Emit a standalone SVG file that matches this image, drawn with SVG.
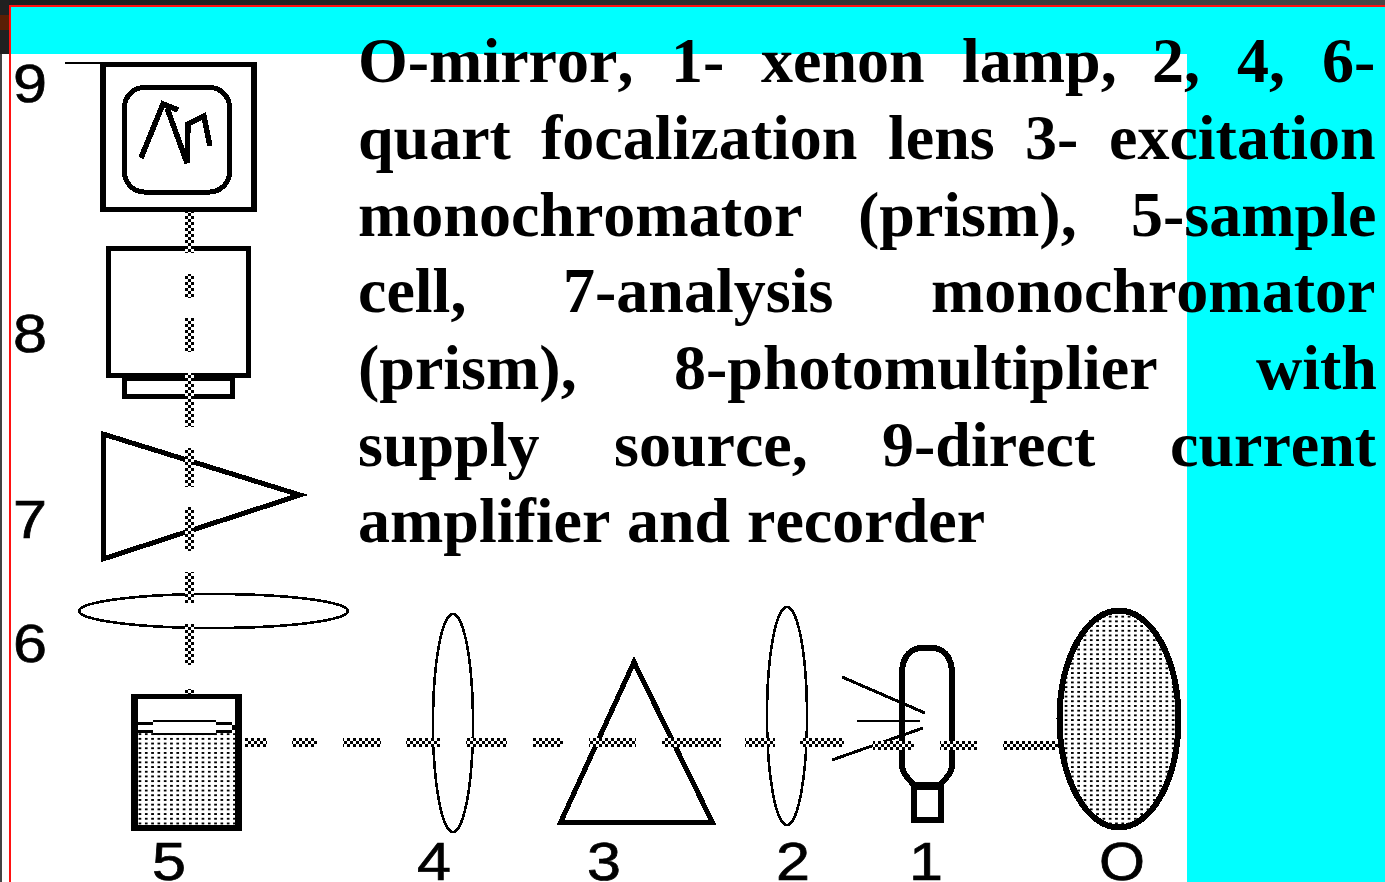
<svg xmlns="http://www.w3.org/2000/svg" width="1385" height="882" viewBox="0 0 1385 882">
<style>
.s{fill:none;stroke:#000;stroke-linejoin:miter;shape-rendering:crispEdges}
.w5{stroke-width:5}
.w6{stroke-width:6}
.w2{stroke-width:2.600}
.w3{stroke-width:3}
.num{font-family:"Liberation Sans",Arial,sans-serif;font-size:54px;fill:#000;stroke:#000;stroke-width:0.700}
.para{font-family:"Liberation Serif","Times New Roman",serif;font-weight:bold;font-size:64px;fill:#000;font-kerning:none}
.b{fill:#000;shape-rendering:crispEdges}
</style>
<defs>
<linearGradient id="top" x1="0" x2="1" y1="0" y2="0"><stop offset="0" stop-color="#1e1e1e"/><stop offset="0.4" stop-color="#2a2a2a"/><stop offset="1" stop-color="#484848"/></linearGradient>
<pattern id="check" patternUnits="userSpaceOnUse" x="185" y="738" width="6" height="6" shape-rendering="crispEdges">
<rect width="6" height="6" fill="#fff"/><rect width="3" height="3" fill="#000"/><rect x="3" y="3" width="3" height="3" fill="#000"/>
</pattern>
<pattern id="dots" patternUnits="userSpaceOnUse" x="0" y="0" width="6.3" height="4.7" shape-rendering="crispEdges">
<rect width="6.3" height="4.7" fill="#fff"/><rect width="2.4" height="2.2" fill="#000"/>
</pattern>
</defs>
<rect width="1385" height="882" fill="#fff"/>
<rect width="1385" height="6" fill="url(#top)"/>
<rect y="0" width="9" height="54" fill="#202020"/>
<rect y="15" width="9" height="15" fill="#5a1f05"/>
<rect y="54" width="2" height="828" fill="#444"/>
<rect x="2" y="54" width="7" height="828" fill="#fff"/>
<rect x="9" y="5" width="1376" height="2" fill="#f11"/>
<rect x="9" y="5" width="2" height="877" fill="#f11"/>
<rect x="11" y="7" width="1374" height="47" fill="#0ff"/>
<rect x="1187" y="54" width="198" height="828" fill="#0ff"/>

<g id="node-9">
<path class="b" d="M65 62H257V212H100V64H65ZM106 67V207H251V67Z" fill-rule="evenodd"/>
<rect class="s w5" x="124.500" y="87.500" width="105" height="104.500" rx="20"/>
<path class="s" stroke-width="5.500" d="M141 158L163 104L178 110M167 108L187 163L188 124L204 116L210 146"/>
<text class="num" x="13" y="102" textLength="34" lengthAdjust="spacingAndGlyphs">9</text>
</g>
<g id="node-8">
<rect class="s w5" x="108.500" y="248.500" width="140" height="127"/>
<rect class="s w5" x="124.500" y="378" width="108" height="18.500"/>
<text class="num" x="13" y="352" textLength="34" lengthAdjust="spacingAndGlyphs">8</text>
</g>
<g id="node-7">
<path class="s w5" d="M103 434L300 495L103 559Z"/>
<text class="num" x="13" y="538" textLength="34" lengthAdjust="spacingAndGlyphs">7</text>
</g>
<g id="node-6">
<ellipse class="s w2" cx="213.500" cy="611" rx="134.500" ry="17"/>
<text class="num" x="13" y="662" textLength="34" lengthAdjust="spacingAndGlyphs">6</text>
</g>
<g id="node-5">
<rect x="138" y="733" width="97" height="92" fill="url(#dots)" shape-rendering="crispEdges"/>
<path class="b" d="M131 694H242V831H131ZM138 699V825H235V699Z" fill-rule="evenodd"/>
<path class="b" d="M138 722H153V720H216V722H232V725H216V722H153V725H138ZM138 730H153V733H216V730H232V733H216V735H153V733H138ZM232 725H235V730H232Z"/>
<text class="num" x="152" y="880" textLength="34" lengthAdjust="spacingAndGlyphs">5</text>
</g>
<g id="node-4">
<ellipse class="s w2" cx="453" cy="723" rx="20" ry="109"/>
<text class="num" x="417" y="880" textLength="34" lengthAdjust="spacingAndGlyphs">4</text>
</g>
<g id="node-3">
<path class="s w5" d="M634 662L560.500 822.500H712.500Z"/>
<text class="num" x="587" y="880" textLength="34" lengthAdjust="spacingAndGlyphs">3</text>
</g>
<g id="node-2">
<ellipse class="s w2" cx="787" cy="716" rx="20" ry="109"/>
<text class="num" x="776" y="880" textLength="34" lengthAdjust="spacingAndGlyphs">2</text>
</g>
<g id="node-1">
<path class="s w6" d="M902 674C902 655 912 648 922 648H932C942 648 952 655 952 674V766Q952 773 940 785H914Q902 773 902 766Z"/>
<rect class="s w6" x="914" y="787" width="27" height="33"/>
<path class="s w3" d="M842 677L925 713M832 760L923 728"/>
<path class="s" stroke-width="2" d="M857 721H920"/>
<text class="num" x="909" y="880" textLength="34" lengthAdjust="spacingAndGlyphs">1</text>
</g>
<g id="node-0">
<ellipse cx="1119" cy="719" rx="59.500" ry="108.500" fill="url(#dots)" stroke="#000" stroke-width="6" shape-rendering="crispEdges"/>
<text class="num" x="1099" y="880" textLength="46" lengthAdjust="spacingAndGlyphs">O</text>
</g>

<g id="connectors" fill="url(#check)" shape-rendering="crispEdges">
<rect x="185" y="212" width="9" height="41"/>
<rect x="185" y="274" width="9" height="24"/>
<rect x="185" y="318" width="9" height="34"/>
<rect x="185" y="373" width="9" height="54"/>
<rect x="185" y="448" width="9" height="39"/>
<rect x="185" y="507" width="9" height="44"/>
<rect x="185" y="572" width="9" height="31"/>
<rect x="185" y="624" width="9" height="41"/>
<rect x="185" y="689" width="9" height="5"/>
<rect x="245" y="738" width="22" height="9"/>
<rect x="292" y="738" width="25" height="9"/>
<rect x="343" y="738" width="38" height="9"/>
<rect x="406" y="738" width="34" height="9"/>
<rect x="466" y="738" width="41" height="9"/>
<rect x="533" y="738" width="30" height="9"/>
<rect x="589" y="738" width="47" height="9"/>
<rect x="662" y="738" width="59" height="9"/>
<rect x="745" y="738" width="30" height="9"/>
<rect x="800" y="738" width="44" height="9"/>
<rect x="873" y="741" width="41" height="9"/>
<rect x="940" y="741" width="37" height="9"/>
<rect x="1003" y="741" width="55" height="9"/>
</g>

<text class="para" y="82"><tspan x="358">O-mirror,</tspan> <tspan x="671">1-</tspan> <tspan x="761">xenon</tspan> <tspan x="962">lamp,</tspan> <tspan x="1152">2,</tspan> <tspan x="1237">4,</tspan> <tspan x="1322">6-</tspan></text>
<text class="para" y="159"><tspan x="358">quart</tspan> <tspan x="541">focalization</tspan> <tspan x="888">lens</tspan> <tspan x="1025">3-</tspan> <tspan x="1109">excitation</tspan></text>
<text class="para" y="236"><tspan x="358">monochromator</tspan> <tspan x="858">(prism),</tspan> <tspan x="1131">5-sample</tspan></text>
<text class="para" y="312"><tspan x="358">cell,</tspan> <tspan x="563">7-analysis</tspan> <tspan x="931">monochromator</tspan></text>
<text class="para" y="389"><tspan x="358">(prism),</tspan> <tspan x="674">8-photomultiplier</tspan> <tspan x="1256">with</tspan></text>
<text class="para" y="466"><tspan x="358">supply</tspan> <tspan x="614">source,</tspan> <tspan x="882">9-direct</tspan> <tspan x="1170">current</tspan></text>
<text class="para" y="542"><tspan x="358">amplifier</tspan> <tspan x="627">and</tspan> <tspan x="747">recorder</tspan></text>
</svg>
